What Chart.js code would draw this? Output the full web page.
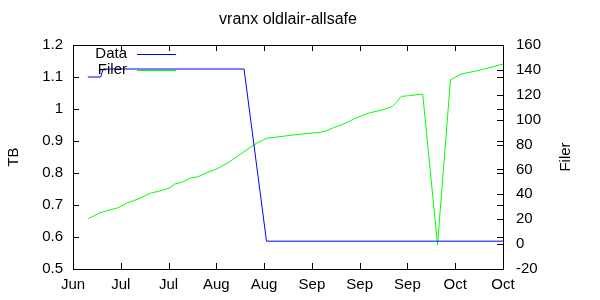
<!DOCTYPE html>
<html>
<head>
<meta charset="utf-8">
<script src="https://cdn.jsdelivr.net/npm/chart.js@4"></script>
<style>
  html, body { margin: 0; padding: 0; background: #fff; }
  #wrap { width: 600px; height: 300px; }
</style>
</head>
<body>
<div id="wrap"><canvas id="chart" width="600" height="300"></canvas></div>
<script>
// x positions are in tick units (one unit = one labelled tick)
var xLabels = ['Jun', 'Jul', 'Jul', 'Aug', 'Aug', 'Sep', 'Sep', 'Sep', 'Oct', 'Oct'];

var dataX  = [0.31, 0.58, 0.63, 3.58, 4.05, 9.0];
var dataTB = [1.1, 1.1, 1.125, 1.125, 0.587, 0.587];

var filerX = [0.32, 0.56, 0.94, 1.12, 1.40, 1.61, 1.82, 2.03, 2.13, 2.27, 2.45, 2.62, 2.80, 3.01,
              3.28, 3.56, 3.84, 4.05, 4.61, 5.17, 5.31, 5.45, 5.66, 5.94, 6.22, 6.47, 6.68, 6.78,
              6.87, 7.02, 7.32, 7.63, 7.90, 8.11, 8.53, 9.0];
var filerVals = [20.4, 25.2, 29.2, 32.8, 36.8, 40.8, 42.7, 45.3, 48.3, 49.6, 52.9, 54.2, 57.4, 60.4,
                 66.2, 73.8, 81.0, 85.0, 87.7, 89.9, 91.1, 93.5, 96.5, 101.6, 105.6, 107.8, 110.4, 114.4,
                 118.7, 119.2, 120.6, -0.5, 131.9, 136.5, 139.9, 144.7];

var FONT = '"Liberation Sans", Arial, sans-serif';

function pts(xs, ys) {
    return xs.map(function (x, i) { return { x: x, y: ys[i] }; });
}

// gnuplot-like frame, inward ticks, title and legend
var gnuplotFrame = {
    id: 'gnuplotFrame',
    afterDraw: function (chart) {
        var ctx = chart.ctx;
        var a = chart.chartArea;
        var sx = chart.scales.x, sy = chart.scales.y, sy2 = chart.scales.y2;
        var t = 6;
        ctx.save();
        ctx.strokeStyle = '#000';
        ctx.lineWidth = 1;
        ctx.beginPath();
        sx.ticks.forEach(function (tk) {
            var x = Math.round(sx.getPixelForValue(tk.value)) + 0.5;
            ctx.moveTo(x, a.bottom); ctx.lineTo(x, a.bottom - t);
            ctx.moveTo(x, a.top); ctx.lineTo(x, a.top + t);
        });
        sy.ticks.forEach(function (tk) {
            var y = Math.round(sy.getPixelForValue(tk.value)) + 0.5;
            ctx.moveTo(a.left, y); ctx.lineTo(a.left + t, y);
            ctx.moveTo(a.right, y); ctx.lineTo(a.right - t, y);
        });
        sy2.ticks.forEach(function (tk) {
            var y = Math.round(sy2.getPixelForValue(tk.value)) + 0.5;
            ctx.moveTo(a.right, y); ctx.lineTo(a.right - t, y);
        });
        ctx.stroke();
        ctx.strokeRect(Math.round(a.left) + 0.5, Math.round(a.top) + 0.5,
                       Math.round(a.right - a.left), Math.round(a.bottom - a.top));

        ctx.fillStyle = '#000';
        ctx.font = '16px ' + FONT;
        ctx.textAlign = 'center';
        ctx.textBaseline = 'middle';
        ctx.fillText('vranx oldlair-allsafe', 288, 20);

        ctx.font = '15px ' + FONT;
        ctx.save();
        ctx.translate(14, 157);
        ctx.rotate(-Math.PI / 2);
        ctx.fillText('TB', 0, 0);
        ctx.restore();
        ctx.save();
        ctx.translate(566, 157);
        ctx.rotate(-Math.PI / 2);
        ctx.fillText('Filer', 0, 0);
        ctx.restore();

        // legend
        ctx.textAlign = 'right';
        chart.data.datasets.forEach(function (ds, i) {
            var y = 54 + i * 16;
            ctx.fillStyle = '#000';
            ctx.fillText(ds.label, 127, y);
            ctx.strokeStyle = ds.borderColor;
            ctx.beginPath();
            ctx.moveTo(137, y + 0.5);
            ctx.lineTo(176, y + 0.5);
            ctx.stroke();
        });
        ctx.restore();
    }
};

var ctx = document.getElementById('chart');
var myChart = new Chart(ctx, {
    type: 'line',
    data: {
        datasets: [{
            label: 'Data',
            data: pts(dataX, dataTB),
            yAxisID: 'y',
            borderColor: '#0000ff',
            borderWidth: 1,
            pointRadius: 0,
            tension: 0
        }, {
            label: 'Filer',
            data: pts(filerX, filerVals),
            yAxisID: 'y2',
            borderColor: '#00ff00',
            borderWidth: 1,
            pointRadius: 0,
            tension: 0
        }]
    },
    options: {
        responsive: false,
        animation: false,
        devicePixelRatio: 1,
        layout: { padding: { top: 45, left: 0, right: 0, bottom: 0 } },
        plugins: {
            legend: { display: false },
            title: { display: false },
            tooltip: { enabled: false }
        },
        scales: {
            x: {
                type: 'linear',
                min: 0,
                max: 9,
                grid: { display: false, drawTicks: false },
                border: { display: false },
                ticks: {
                    stepSize: 1,
                    padding: 7,
                    color: '#000',
                    font: { family: FONT, size: 15 },
                    maxRotation: 0,
                    autoSkip: false,
                    callback: function (v) { return xLabels[Math.round(v)]; }
                },
                afterFit: function (s) { s.height = 31; }
            },
            y: {
                position: 'left',
                min: 0.5,
                max: 1.2,
                grid: { display: false, drawTicks: false },
                border: { display: false },
                ticks: {
                    stepSize: 0.1,
                    padding: 10,
                    color: '#000',
                    font: { family: FONT, size: 15 },
                    callback: function (v) { return String(Math.round(v * 10) / 10); }
                },
                afterFit: function (s) { s.width = 73; }
            },
            y2: {
                position: 'right',
                min: -20,
                max: 160,
                grid: { display: false, drawTicks: false },
                border: { display: false },
                ticks: {
                    stepSize: 20,
                    padding: 13,
                    color: '#000',
                    font: { family: FONT, size: 15 }
                },
                afterFit: function (s) { s.width = 97; }
            }
        }
    },
    plugins: [gnuplotFrame]
});
</script>
</body>
</html>
